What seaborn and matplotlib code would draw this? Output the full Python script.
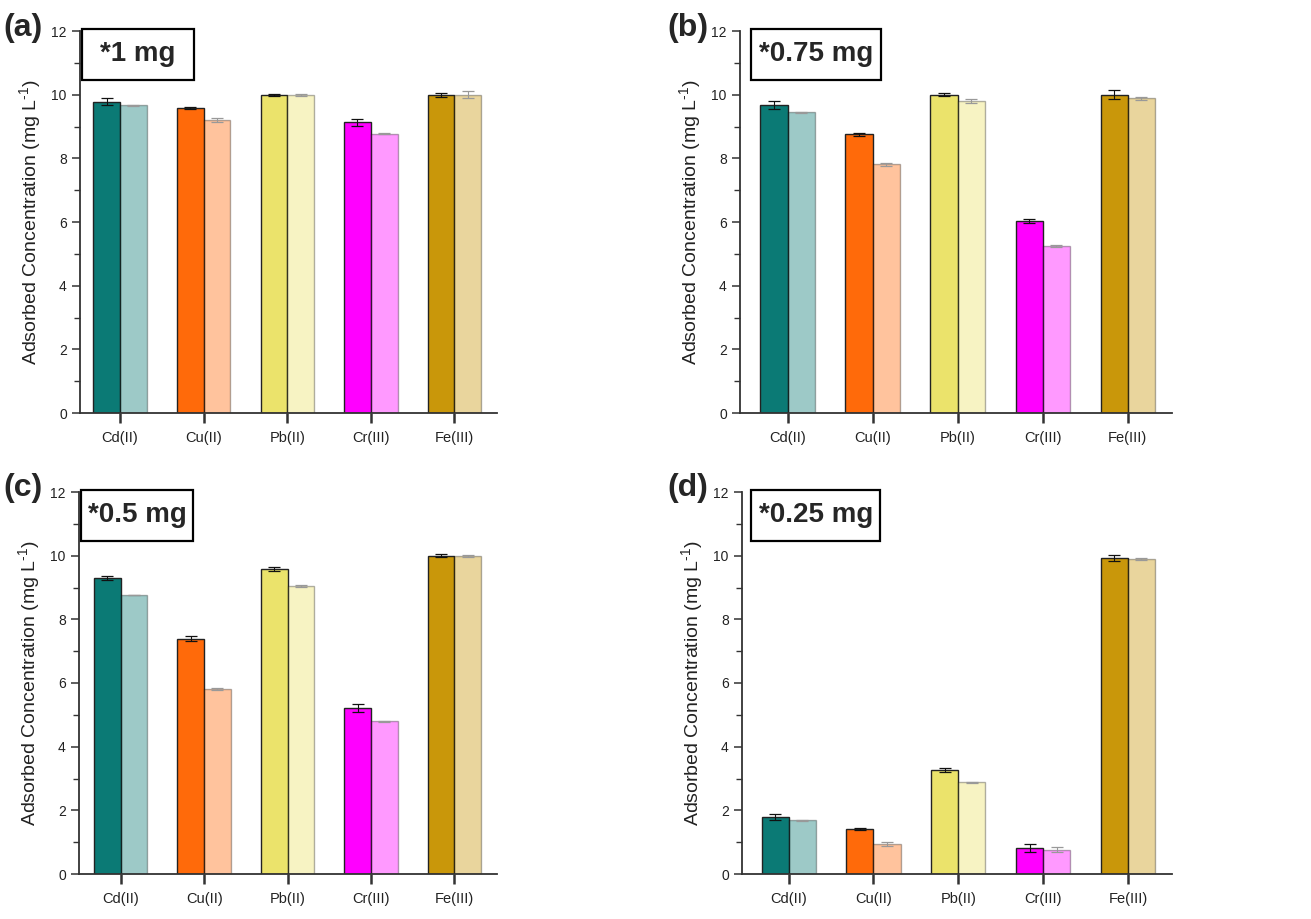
import pandas as pd
import matplotlib.pyplot as plt
import numpy as np
import seaborn as sns
from matplotlib.colors import to_rgba
from matplotlib.patches import Rectangle
from matplotlib.ticker import MultipleLocator

metals = ["Cd(II)", "Cu(II)", "Pb(II)", "Cr(III)", "Fe(III)"]
dark_colors = ["#0b7a75", "#ff6a0a", "#ebe36b", "#ff00ff", "#c9970a"]
doses = ["*1 mg", "*0.75 mg", "*0.5 mg", "*0.25 mg"]
panel_tags = ["(a)", "(b)", "(c)", "(d)"]

# first (dark) and second (light) bar of each metal, one pair of lists per dose
first_1mg = [9.78, 9.59, 10.0, 9.13, 10.0]
second_1mg = [9.66, 9.20, 10.0, 8.78, 10.0]
first_err_1mg = [0.10, 0.03, 0.03, 0.10, 0.06]
second_err_1mg = [0.02, 0.06, 0.03, 0.02, 0.12]

first_075mg = [9.67, 8.75, 10.0, 6.04, 10.0]
second_075mg = [9.44, 7.81, 9.81, 5.25, 9.88]
first_err_075mg = [0.12, 0.05, 0.04, 0.06, 0.15]
second_err_075mg = [0.02, 0.04, 0.06, 0.03, 0.06]

first_05mg = [9.30, 7.39, 9.58, 5.21, 10.0]
second_05mg = [8.77, 5.82, 9.04, 4.80, 10.0]
first_err_05mg = [0.07, 0.08, 0.06, 0.13, 0.04]
second_err_05mg = [0.01, 0.03, 0.03, 0.02, 0.03]

first_025mg = [1.80, 1.41, 3.26, 0.81, 9.93]
second_025mg = [1.69, 0.94, 2.88, 0.76, 9.90]
first_err_025mg = [0.10, 0.03, 0.07, 0.12, 0.10]
second_err_025mg = [0.01, 0.07, 0.02, 0.08, 0.03]

firsts = [first_1mg, first_075mg, first_05mg, first_025mg]
seconds = [second_1mg, second_075mg, second_05mg, second_025mg]
first_errs = [first_err_1mg, first_err_075mg, first_err_05mg, first_err_025mg]
second_errs = [second_err_1mg, second_err_075mg, second_err_05mg, second_err_025mg]

sns.set_style("ticks")
plt.rcParams["font.family"] = ["Liberation Sans", "DejaVu Sans"]
plt.rcParams["mathtext.fontset"] = "custom"
plt.rcParams["mathtext.rm"] = "Liberation Sans"

W, H = 1311, 919
fig = plt.figure(figsize=(W / 100, H / 100), dpi=100)

# axes boxes in pixels: left, top, right, bottom
boxes = [(80, 31, 497, 413), (740, 31, 1172, 413),
         (79, 492, 497, 874), (742, 492, 1172, 874)]
xlims = [(-0.48, 4.51), (-0.56, 4.52), (-0.50, 4.51), (-0.55, 4.52)]
label_boxes = [(0.005, 0.273), (0.025, 0.326), (0.005, 0.273), (0.021, 0.322)]
tag_pos = [(3, 28), (667, 28), (3, 488), (667, 488)]

for k in range(4):
    l, t, r, b = boxes[k]
    ax = fig.add_axes([l / W, 1 - b / H, (r - l) / W, (b - t) / H])
    df = pd.DataFrame({
        "metal": metals * 2,
        "conc": firsts[k] + seconds[k],
        "run": ["first"] * 5 + ["second"] * 5,
    })
    sns.barplot(data=df, x="metal", y="conc", hue="run", width=0.64,
                errorbar=None, legend=False, ax=ax)
    errs = [first_errs[k], second_errs[k]]
    bars = sorted([p for p in ax.patches if p is not None], key=lambda p: p.get_x())
    xs = [[], []]
    ys = [[], []]
    for p, bar in enumerate(bars):
        j, i = p // 2, p % 2
        if i == 0:
            bar.set_facecolor(dark_colors[j])
            bar.set_edgecolor("#222222")
        else:
            bar.set_facecolor(to_rgba(dark_colors[j], 0.4))
            bar.set_edgecolor((0, 0, 0, 0.3))
        bar.set_linewidth(1.0)
        xs[i].append(bar.get_x() + bar.get_width() / 2)
        ys[i].append(bar.get_height())
    for i in range(2):
        ax.errorbar(xs[i], ys[i], yerr=errs[i], fmt="none",
                    ecolor="#111111" if i == 0 else "#999999",
                    elinewidth=0.8, capsize=4, capthick=0.9)

    ax.set_ylim(0, 12)
    ax.set_xlim(*xlims[k])
    ax.yaxis.set_major_locator(MultipleLocator(2))
    ax.yaxis.set_minor_locator(MultipleLocator(1))
    sns.despine(ax=ax)
    for s in ["left", "bottom"]:
        ax.spines[s].set_linewidth(1.3)
        ax.spines[s].set_color("#333333")
    ax.tick_params(axis="y", which="major", length=6, width=1.1,
                   labelsize=10, colors="#333333", labelcolor="#222222")
    ax.tick_params(axis="y", which="minor", length=4, width=1.0, colors="#333333")
    ax.tick_params(axis="x", length=7, width=1.8, labelsize=10.5,
                   colors="#333333", labelcolor="#222222", pad=6)
    ax.set_xlabel("")
    ax.set_ylabel(r"Adsorbed Concentration (mg L$^{\text{-1}}$)", fontsize=14,
                  color="#222222", labelpad=5)

    x0, x1 = label_boxes[k]
    ax.add_patch(Rectangle((x0, 0.872), x1 - x0, 0.133, transform=ax.transAxes,
                           facecolor="white", edgecolor="black", linewidth=1.6,
                           clip_on=False, zorder=5))
    ax.text((x0 + x1) / 2, 0.872 + 0.133 / 2, doses[k], transform=ax.transAxes,
            ha="center", va="center", fontsize=20, fontweight="bold", zorder=6)

    tx, ty = tag_pos[k]
    fig.text(tx / W, 1 - ty / H, panel_tags[k], ha="left", va="center",
             fontsize=23, fontweight="bold")

fig.savefig("out.png", dpi=100)
